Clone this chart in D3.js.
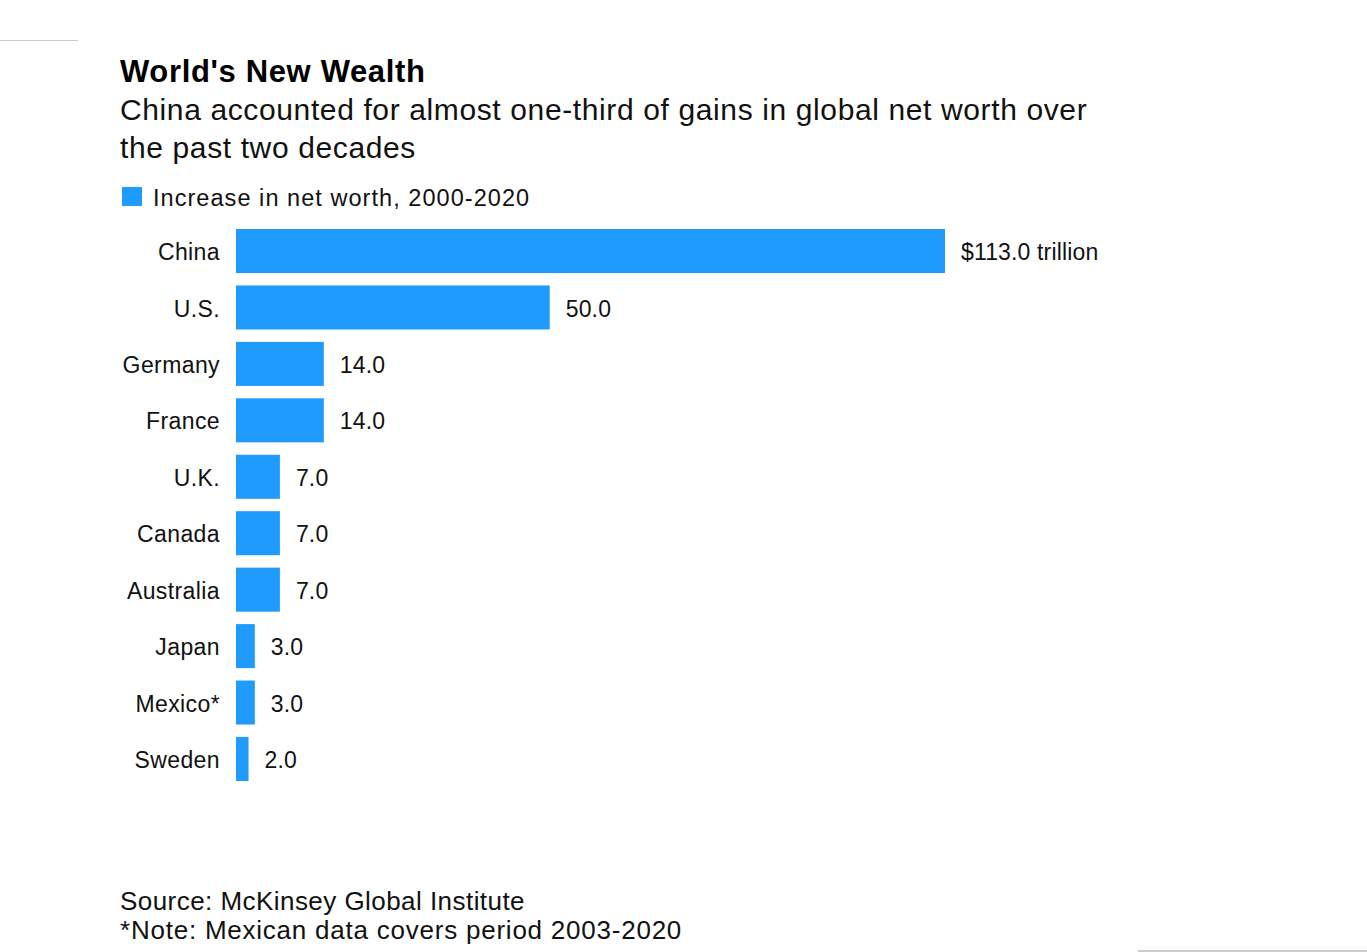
<!DOCTYPE html>
<html><head><meta charset="utf-8">
<script src="https://cdn.jsdelivr.net/npm/d3@7"></script>
<style>body{margin:0;background:#fff}svg{display:block}text{font-family:"Liberation Sans",Arial,sans-serif}</style>
</head><body>
<script>
const categories = ["China","U.S.","Germany","France","U.K.","Canada","Australia","Japan","Mexico*","Sweden"];
const values = [113.0,50.0,14.0,14.0,7.0,7.0,7.0,3.0,3.0,2.0];
const valueLabels = ["$113.0 trillion","50.0","14.0","14.0","7.0","7.0","7.0","3.0","3.0","2.0"];
const legendLabel = "Increase in net worth, 2000-2020";
const title = "World's New Wealth";
const subtitle = ["China accounted for almost one-third of gains in global net worth over","the past two decades"];
const footer = ["Source: McKinsey Global Institute","*Note: Mexican data covers period 2003-2020"];

const W = 1367, H = 952, color = "#1e9bfd";
const svg = d3.select("body").append("svg").attr("width", W).attr("height", H);

svg.append("line").attr("x1",0).attr("x2",78).attr("y1",40.5).attr("y2",40.5).attr("stroke","#ccc");
svg.append("line").attr("x1",1138).attr("x2",W).attr("y1",951).attr("y2",951).attr("stroke","#ccc").attr("stroke-width",2);

svg.append("text").attr("x",120).attr("y",82).attr("font-size",31).attr("font-weight","bold").attr("letter-spacing",0.65).attr("fill","#000").text(title);
subtitle.forEach((s,i)=>svg.append("text").attr("x",120).attr("y",120+i*38).attr("font-size",30).attr("letter-spacing",0.62).attr("fill","#111").text(s));

svg.append("rect").attr("x",122).attr("y",187).attr("width",20).attr("height",19).attr("fill",color);
svg.append("text").attr("x",153).attr("y",206).attr("font-size",23.5).attr("letter-spacing",1.05).attr("fill","#111").text(legendLabel);

const x = d3.scaleLinear().domain([0,113]).range([236,945]);
const y = d3.scaleBand().domain(categories).range([222.8,787.2]).paddingInner(0.22).paddingOuter(0.11);

const g = svg.append("g");
g.selectAll("rect.bar").data(values).join("rect").attr("class","bar")
  .attr("x",x(0)).attr("y",(d,i)=>y(categories[i])).attr("width",d=>x(d)-x(0)).attr("height",y.bandwidth()).attr("fill",color);

g.selectAll("text.cat").data(categories).join("text").attr("class","cat")
  .attr("x",220).attr("y",d=>y(d)+y.bandwidth()/2+1).attr("dy","0.35em").attr("text-anchor","end")
  .attr("font-size",23).attr("letter-spacing",0.4).attr("fill","#111").text(d=>d);

g.selectAll("text.val").data(values).join("text").attr("class","val")
  .attr("x",d=>x(d)+16).attr("y",(d,i)=>y(categories[i])+y.bandwidth()/2+1).attr("dy","0.35em")
  .attr("font-size",23).attr("letter-spacing",0.15).attr("fill","#111").text((d,i)=>valueLabels[i]);

const fsp = [0.45,0.77];
footer.forEach((s,i)=>svg.append("text").attr("x",120).attr("y",910+i*29).attr("font-size",26).attr("letter-spacing",fsp[i]).attr("fill","#111").text(s));
</script>
</body></html>
